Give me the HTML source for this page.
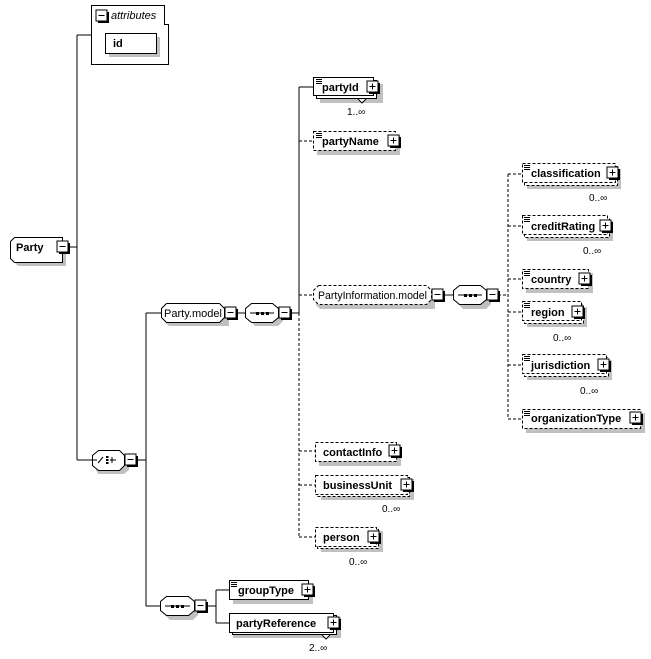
<!DOCTYPE html>
<html><head><meta charset="utf-8"><style>
html,body{margin:0;padding:0;background:#fff;width:651px;height:659px;overflow:hidden}
svg{display:block}
text{font-family:"Liberation Sans",sans-serif;font-size:11px;fill:#000}
.b{font-weight:bold}
.m{font-size:10px}
</style></head><body>
<svg width="651" height="659" viewBox="0 0 651 659" xmlns="http://www.w3.org/2000/svg">
<defs>
<g id="plus"><rect x="2" y="2" width="11" height="11" fill="#000"/><rect x="0" y="0" width="11" height="11" fill="#fff" stroke="#000"/><path d="M2.5 5.5H8.5M5.5 2.5V8.5" stroke="#000"/></g>
<g id="minus"><rect x="2" y="2" width="11" height="11" fill="#000"/><rect x="0" y="0" width="11" height="11" fill="#fff" stroke="#000"/><path d="M2.5 5.5H8.5" stroke="#000"/></g>
<g id="doc"><path d="M0 0.5H6M0 2.5H6M0 4.5H6" stroke="#000" stroke-width="1"/></g>
</defs>
<g fill="none" stroke="#000" stroke-width="1" shape-rendering="crispEdges">
<path d="M77 35V460M77 35H91M68 247H77M77 460H92M136 460H146M146 313V606M146 313H161M146 606H160M236 313H245M290 313H299M299 87V313M299 87H313M206 606H216M216 590V623M216 590H229M216 623H229M443 295H453"/>
<path d="M299 141H313M299 313V537M299 295H313M299 451H315M299 485H315M299 537H315M498 295H508M508 174V419M508 174H522M508 226H522M508 279H522M508 312H522M508 365H522M508 419H522" stroke-dasharray="3,2"/>
</g>
<path d="M91.5 5.5H164.5V24.5H168.5V64.5H91.5Z" fill="#fff" stroke="#000"/>
<use href="#minus" x="96" y="10"/>
<text x="111" y="19" style="font-style:italic">attributes</text>
<rect x="109" y="37" width="51" height="20" fill="#c0c0c0"/>
<rect x="105.5" y="33.5" width="51" height="20" fill="#fff" stroke="#000"/>
<text x="113" y="47" class="b">id</text>
<path d="M14 241H66V266H18L14 262Z" fill="#c0c0c0"/>
<path d="M14.5 237.5H62.5V262.5H14.5L10.5 258.5V241.5Z" fill="#fff" stroke="#000"/>
<text x="16" y="251" class="b">Party</text>
<use href="#minus" x="57" y="241"/>
<path d="M98 454H124L129 459V470L124 474H98L96 470V459Z" fill="#c0c0c0"/>
<path d="M98.5 450.5H119.5L124.5 455.5V465.5L119.5 470.5H98.5L92.5 465.5V455.5Z" fill="#fff" stroke="#000"/>
<path d="M92 460H97M98 463L103 457M106 457H109M106 460H109M106 463H109M110 460H116M112 457V463" stroke="#000" fill="none"/>
<rect x="106" y="456" width="2" height="2"/><rect x="106" y="459" width="2" height="2"/><rect x="106" y="462" width="2" height="2"/>
<use href="#minus" x="125" y="454"/>
<path d="M169 307H229V326H169L165 322V311Z" fill="#c0c0c0"/>
<path d="M166.5 303.5H219.5L224.5 308.5V317.5L219.5 322.5H166.5L161.5 317.5V308.5Z" fill="#fff" stroke="#000"/>
<text x="164" y="317" textLength="58" lengthAdjust="spacingAndGlyphs">Party.model</text>
<use href="#minus" x="225" y="307"/>
<path d="M255 307H278L283 312V321L278 326H255L250 321V312Z" fill="#c0c0c0"/>
<path d="M251.5 303.5H272.5L278.5 308.5V317.5L272.5 322.5H251.5L245.5 317.5V308.5Z" fill="#fff" stroke="#000"/>
<path d="M250 313H274" stroke="#000"/><rect x="256" y="312" width="3" height="3"/><rect x="261" y="312" width="3" height="3"/><rect x="266" y="312" width="3" height="3"/>
<use href="#minus" x="279" y="307"/>
<rect x="320" y="84" width="63" height="19" fill="#c0c0c0"/>
<rect x="316.5" y="80.5" width="60" height="18" fill="#fff" stroke="#000"/>
<rect x="313.5" y="77.5" width="60" height="18" fill="#fff" stroke="#000"/>
<use href="#doc" x="316" y="79"/>
<text x="322" y="91" class="b">partyId</text>
<use href="#plus" x="367" y="81"/>
<path d="M358 99L362 103L366 99" fill="#fff" stroke="#000"/>
<text x="347" y="115" class="m">1..∞</text>
<rect x="317" y="135" width="83" height="20" fill="#c0c0c0"/>
<rect x="313.5" y="131.5" width="82" height="19" fill="#fff" stroke="#000" stroke-dasharray="3,2"/>
<use href="#doc" x="316" y="133"/>
<text x="322" y="145" class="b">partyName</text>
<use href="#plus" x="388" y="135"/>
<path d="M320 289H435V309H320L316 305V293Z" fill="#c0c0c0"/>
<path d="M318.5 285.5H426.5L431.5 290.5V299.5L426.5 304.5H318.5L313.5 299.5V290.5Z" fill="#fff" stroke="#000" stroke-dasharray="3,2"/>
<text x="318" y="299" textLength="109" lengthAdjust="spacingAndGlyphs">PartyInformation.model</text>
<use href="#minus" x="432" y="289"/>
<path d="M463 289H486L491 294V304L486 309H463L458 304V294Z" fill="#c0c0c0"/>
<path d="M459.5 285.5H480.5L486.5 290.5V299.5L480.5 304.5H459.5L453.5 299.5V290.5Z" fill="#fff" stroke="#000"/>
<path d="M458 295H482" stroke="#000"/><rect x="464" y="294" width="3" height="3"/><rect x="469" y="294" width="3" height="3"/><rect x="474" y="294" width="3" height="3"/>
<use href="#minus" x="487" y="289"/>
<g>
<rect x="527" y="169" width="94" height="20" fill="#c0c0c0"/>
<rect x="524.5" y="166.5" width="93" height="19" fill="#fff" stroke="#000" stroke-dasharray="3,2"/>
<rect x="522.5" y="163.5" width="93" height="19" fill="#fff" stroke="#000" stroke-dasharray="3,2"/>
<use href="#doc" x="524" y="165"/>
<text x="531" y="177" class="b">classification</text>
<use href="#plus" x="607" y="167"/>
<text x="589" y="201" class="m">0..∞</text>
<rect x="527" y="221" width="86" height="20" fill="#c0c0c0"/>
<rect x="524.5" y="218.5" width="85" height="19" fill="#fff" stroke="#000" stroke-dasharray="3,2"/>
<rect x="522.5" y="215.5" width="85" height="19" fill="#fff" stroke="#000" stroke-dasharray="3,2"/>
<use href="#doc" x="524" y="217"/>
<text x="531" y="230" class="b">creditRating</text>
<use href="#plus" x="600" y="220"/>
<text x="583" y="254" class="m">0..∞</text>
<rect x="526" y="273" width="67" height="20" fill="#c0c0c0"/>
<rect x="522.5" y="269.5" width="66" height="19" fill="#fff" stroke="#000" stroke-dasharray="3,2"/>
<use href="#doc" x="524" y="271"/>
<text x="531" y="283" class="b">country</text>
<use href="#plus" x="579" y="273"/>
<rect x="527" y="307" width="60" height="20" fill="#c0c0c0"/>
<rect x="524.5" y="304.5" width="59" height="19" fill="#fff" stroke="#000" stroke-dasharray="3,2"/>
<rect x="522.5" y="301.5" width="59" height="19" fill="#fff" stroke="#000" stroke-dasharray="3,2"/>
<use href="#doc" x="524" y="303"/>
<text x="531" y="316" class="b">region</text>
<use href="#plus" x="572" y="306"/>
<text x="553" y="341" class="m">0..∞</text>
<rect x="527" y="360" width="85" height="20" fill="#c0c0c0"/>
<rect x="524.5" y="357.5" width="84" height="19" fill="#fff" stroke="#000" stroke-dasharray="3,2"/>
<rect x="522.5" y="354.5" width="84" height="19" fill="#fff" stroke="#000" stroke-dasharray="3,2"/>
<use href="#doc" x="524" y="356"/>
<text x="531" y="369" class="b">jurisdiction</text>
<use href="#plus" x="598" y="359"/>
<text x="580" y="394" class="m">0..∞</text>
<rect x="526" y="413" width="119" height="20" fill="#c0c0c0"/>
<rect x="522.5" y="409.5" width="118" height="19" fill="#fff" stroke="#000" stroke-dasharray="3,2"/>
<use href="#doc" x="524" y="411"/>
<text x="531" y="422" class="b">organizationType</text>
<use href="#plus" x="630" y="412"/>
</g>
<rect x="319" y="446" width="82" height="20" fill="#c0c0c0"/>
<rect x="315.5" y="442.5" width="81" height="19" fill="#fff" stroke="#000" stroke-dasharray="3,2"/>
<text x="323" y="456" class="b">contactInfo</text>
<use href="#plus" x="389" y="445"/>
<rect x="321" y="479" width="93" height="21" fill="#c0c0c0"/>
<rect x="317.5" y="477.5" width="92" height="19" fill="#fff" stroke="#000" stroke-dasharray="3,2"/>
<rect x="315.5" y="475.5" width="92" height="19" fill="#fff" stroke="#000" stroke-dasharray="3,2"/>
<text x="323" y="489" class="b">businessUnit</text>
<use href="#plus" x="401" y="479"/>
<text x="382" y="512" class="m">0..∞</text>
<rect x="321" y="531" width="62" height="21" fill="#c0c0c0"/>
<rect x="317.5" y="529.5" width="61" height="19" fill="#fff" stroke="#000" stroke-dasharray="3,2"/>
<rect x="315.5" y="527.5" width="61" height="19" fill="#fff" stroke="#000" stroke-dasharray="3,2"/>
<text x="323" y="541" class="b">person</text>
<use href="#plus" x="368" y="531"/>
<text x="349" y="565" class="m">0..∞</text>
<path d="M170 600H193L198 605V615L193 620H170L165 615V605Z" fill="#c0c0c0"/>
<path d="M166.5 596.5H188.5L194.5 601.5V610.5L188.5 615.5H166.5L160.5 610.5V601.5Z" fill="#fff" stroke="#000"/>
<path d="M165 606H190" stroke="#000"/><rect x="171" y="605" width="3" height="3"/><rect x="176" y="605" width="3" height="3"/><rect x="181" y="605" width="3" height="3"/>
<use href="#minus" x="195" y="600"/>
<rect x="233" y="584" width="80" height="20" fill="#c0c0c0"/>
<rect x="229.5" y="580.5" width="79" height="19" fill="#fff" stroke="#000"/>
<use href="#doc" x="231" y="582"/>
<text x="238" y="594" class="b">groupType</text>
<use href="#plus" x="302" y="584"/>
<rect x="233" y="617" width="108" height="21" fill="#c0c0c0"/>
<rect x="232.5" y="615.5" width="104" height="19" fill="#fff" stroke="#000"/>
<rect x="229.5" y="613.5" width="104" height="19" fill="#fff" stroke="#000"/>
<text x="236" y="627" class="b">partyReference</text>
<use href="#plus" x="328" y="617"/>
<path d="M322 635L326 639L330 635" fill="#fff" stroke="#000"/>
<text x="309" y="651" class="m">2..∞</text>
</svg>
</body></html>
